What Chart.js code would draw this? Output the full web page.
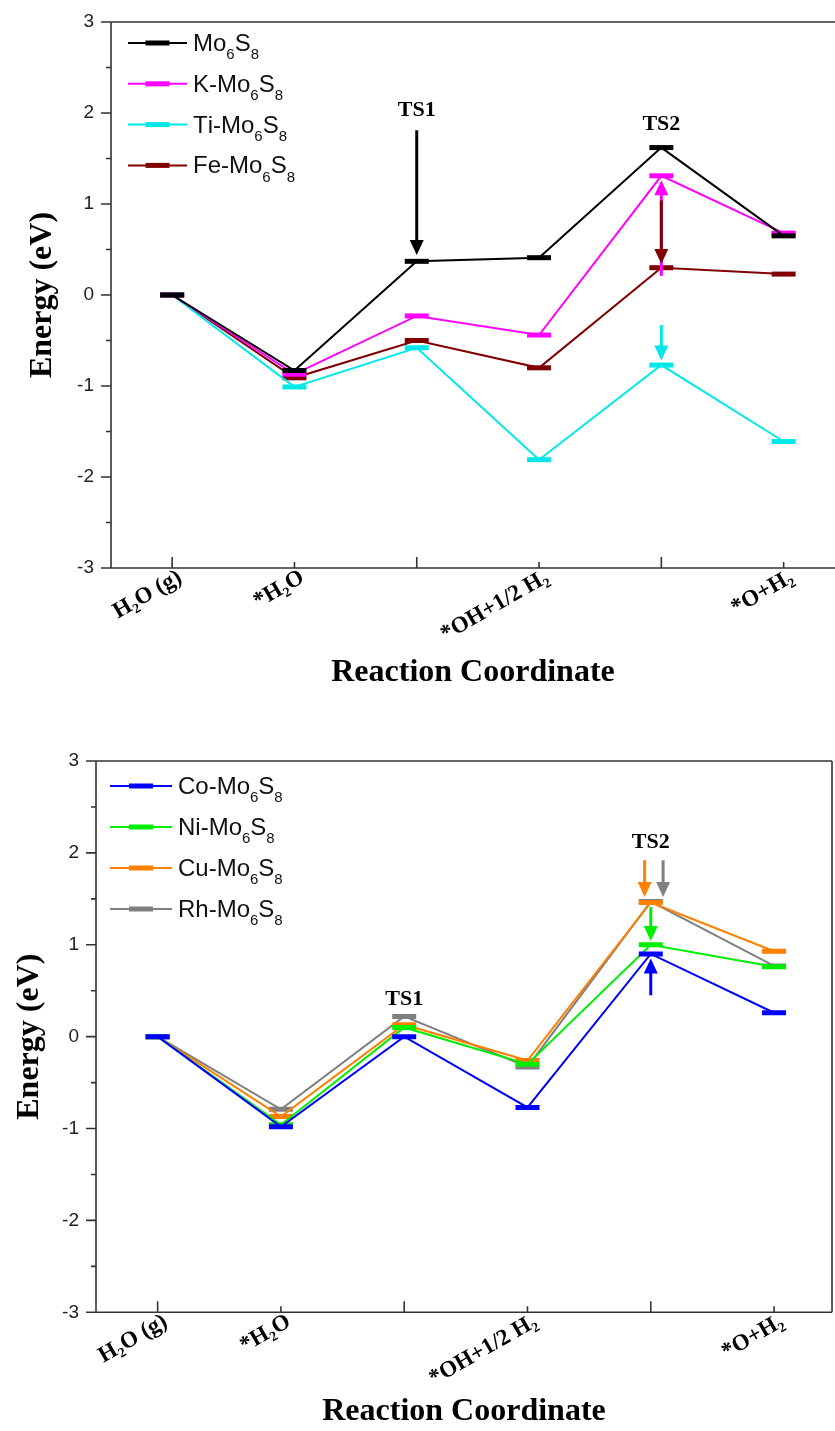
<!DOCTYPE html>
<html>
<head>
<meta charset="utf-8">
<script src="https://cdn.jsdelivr.net/npm/chart.js@4.4.1/dist/chart.umd.min.js"></script>
<style>
html,body{margin:0;padding:0;background:#fff;overflow:hidden;width:835px;height:1431px;}
#wrap1{position:absolute;left:0;top:0;width:835px;height:700px;}
#wrap2{position:absolute;left:0;top:700px;width:835px;height:731px;}
canvas{display:block;}
</style>
</head>
<body>
<div id="wrap1"><canvas id="c1"></canvas></div>
<div id="wrap2"><canvas id="c2"></canvas></div>
<script>
// ---------- data ----------
const categoryIndex = [0, 1, 2, 3, 4, 5];
const categories = ['H₂O (g)', '*H₂O', 'TS1', '*OH+1/2 H₂', 'TS2', '*O+H₂'];
const tickLabels = ['H₂O (g)', '*H₂O', '', '*OH+1/2 H₂', '', '*O+H₂'];
const yTickValues = [-3, -2, -1, 0, 1, 2, 3];
const yMinorValues = [-2.5, -1.5, -0.5, 0.5, 1.5, 2.5];

const topSeriesLabels = ['Mo₆S₈', 'K-Mo₆S₈', 'Ti-Mo₆S₈', 'Fe-Mo₆S₈'];
const mo6s8   = [0, -0.83,  0.37,  0.41,  1.62,  0.65];
const kMo6s8  = [0, -0.87, -0.23, -0.44,  1.31,  0.68];
const tiMo6s8 = [0, -1.01, -0.58, -1.81, -0.77, -1.61];
const feMo6s8 = [0, -0.91, -0.50, -0.80,  0.30,  0.23];

const bottomSeriesLabels = ['Co-Mo₆S₈', 'Ni-Mo₆S₈', 'Cu-Mo₆S₈', 'Rh-Mo₆S₈'];
const coMo6s8 = [0, -0.98, 0.00, -0.77, 0.90, 0.26];
const niMo6s8 = [0, -0.96, 0.10, -0.30, 1.00, 0.76];
const cuMo6s8 = [0, -0.87, 0.13, -0.26, 1.46, 0.93];
const rhMo6s8 = [0, -0.79, 0.22, -0.33, 1.47, 0.77];

// arrows: series index, x (category), from value, to value (tip)
const topArrows = [
  {series: 0, x: 2, from: 1.81, to: 0.44},
  {series: 1, x: 4, from: 0.21, to: 1.26},
  {series: 3, x: 4, from: 1.04, to: 0.34},
  {series: 2, x: 4, from: -0.33, to: -0.72}
];
const bottomArrows = [
  {series: 2, x: 3.95, from: 1.92, to: 1.52},
  {series: 3, x: 4.10, from: 1.92, to: 1.52},
  {series: 1, x: 4.0, from: 1.41, to: 1.04},
  {series: 0, x: 4.0, from: 0.45, to: 0.85}
];
const topTsLabels = [{text: 'TS1', x: 2, y: 2.03}, {text: 'TS2', x: 4, y: 1.88}];
const bottomTsLabels = [{text: 'TS1', x: 2, y: 0.41}, {text: 'TS2', x: 4, y: 2.11}];

// ---------- styles ----------
const topColors = ['#000000', '#ff00ff', '#00e8e8', '#800000'];
const bottomColors = ['#0000ff', '#00ee00', '#ff8000', '#808080'];

const SUBS = {'₀':'0','₁':'1','₂':'2','₃':'3','₄':'4','₅':'5','₆':'6','₇':'7','₈':'8','₉':'9'};
function drawRich(ctx, text, x, y, size, family, weight) {
  let cx = x;
  for (const ch of text) {
    if (SUBS[ch]) {
      ctx.font = `${weight} ${Math.round(size * 0.64)}px ${family}`;
      ctx.fillText(SUBS[ch], cx, y + size * 0.34);
      cx += ctx.measureText(SUBS[ch]).width;
    } else {
      ctx.font = `${weight} ${size}px ${family}`;
      ctx.fillText(ch, cx, y);
      cx += ctx.measureText(ch).width;
    }
  }
}

const framePlugin = {
  id: 'frame',
  afterDatasetsDraw(chart, args, o) {
    const {ctx, chartArea: a, scales: {x, y}} = chart;
    ctx.save();
    ctx.strokeStyle = '#333';
    ctx.lineWidth = 1.6;
    ctx.beginPath();
    const rightEnd = o.rightBorder ? a.right : chart.width + 2;
    ctx.moveTo(a.left, a.top);
    ctx.lineTo(a.left, a.bottom);
    ctx.lineTo(rightEnd, a.bottom);
    ctx.moveTo(a.left, a.top);
    ctx.lineTo(rightEnd, a.top);
    if (o.rightBorder) {
      ctx.moveTo(a.right, a.top);
      ctx.lineTo(a.right, a.bottom);
    }
    // y ticks (outward)
    yTickValues.forEach(v => {
      const py = y.getPixelForValue(v);
      ctx.moveTo(a.left - 10, py); ctx.lineTo(a.left, py);
    });
    yMinorValues.forEach(v => {
      const py = y.getPixelForValue(v);
      ctx.moveTo(a.left - 5, py); ctx.lineTo(a.left, py);
    });
    // x ticks (inward)
    categoryIndex.forEach(i => {
      const px = x.getPixelForValue(i);
      const len = i % 2 === 0 ? 11 : 6;
      ctx.moveTo(px, a.bottom); ctx.lineTo(px, a.bottom - len);
    });
    ctx.stroke();
    ctx.restore();
  }
};

const annotPlugin = {
  id: 'annot',
  afterDraw(chart, args, o) {
    const {ctx, chartArea: a, scales: {x, y}} = chart;
    const ds = chart.data.datasets;
    ctx.save();
    // arrows
    o.arrows.forEach(ar => {
      const col = ds[ar.series].borderColor;
      const px = x.getPixelForValue(ar.x);
      const y0 = y.getPixelForValue(ar.from);
      const y1 = y.getPixelForValue(ar.to);
      const dir = Math.sign(y1 - y0);
      const headLen = 15, headW = 7;
      ctx.strokeStyle = col; ctx.fillStyle = col; ctx.lineWidth = 3;
      ctx.beginPath();
      ctx.moveTo(px, y0); ctx.lineTo(px, y1 - dir * headLen + dir * 1);
      ctx.stroke();
      ctx.beginPath();
      ctx.moveTo(px, y1);
      ctx.lineTo(px - headW, y1 - dir * headLen);
      ctx.lineTo(px + headW, y1 - dir * headLen);
      ctx.closePath();
      ctx.fill();
    });
    // TS labels
    ctx.fillStyle = '#000';
    ctx.font = 'bold 22px "Liberation Serif"';
    ctx.textAlign = 'center';
    ctx.textBaseline = 'middle';
    o.ts.forEach(t => ctx.fillText(t.text, x.getPixelForValue(t.x), y.getPixelForValue(t.y)));
    // legend
    const L = o.legend;
    ctx.textAlign = 'left';
    ctx.textBaseline = 'alphabetic';
    ds.forEach((d, i) => {
      const ry = a.top + L.y0 + i * L.dy;
      const lx0 = a.left + L.x0, lx1 = lx0 + L.len;
      ctx.strokeStyle = d.borderColor; ctx.lineWidth = 2;
      ctx.beginPath(); ctx.moveTo(lx0, ry); ctx.lineTo(lx1, ry); ctx.stroke();
      ctx.lineWidth = 5;
      const mid = (lx0 + lx1) / 2;
      ctx.beginPath(); ctx.moveTo(mid - 12, ry); ctx.lineTo(mid + 12, ry); ctx.stroke();
      ctx.fillStyle = '#111';
      drawRich(ctx, d.label, lx1 + 6, ry + 8, 24, '"Liberation Sans", Arial, sans-serif', 'normal');
    });
    ctx.restore();
  }
};

function buildChart(id, c) {
  const datasets = c.series.map((data, i) => ({
    label: c.labels[i],
    data: data,
    borderColor: c.colors[i],
    backgroundColor: c.colors[i],
    borderWidth: 2,
    pointStyle: 'line',
    pointRadius: 12,
    pointHoverRadius: 12,
    pointBorderWidth: 5,
    pointBorderColor: c.colors[i],
    fill: false,
    tension: 0
  }));
  return new Chart(document.getElementById(id), {
    type: 'line',
    data: {labels: categoryIndex, datasets: datasets},
    options: {
      responsive: true,
      maintainAspectRatio: false,
      animation: false,
      devicePixelRatio: 1,
      events: [],
      layout: {padding: c.padding, autoPadding: false},
      plugins: {
        legend: {display: false},
        tooltip: {enabled: false},
        frame: {rightBorder: c.rightBorder},
        annot: {arrows: c.arrows, ts: c.ts, legend: c.legend}
      },
      scales: {
        x: {
          type: 'linear',
          min: -0.5,
          max: c.xMax,
          afterBuildTicks: s => { s.ticks = categoryIndex.map(v => ({value: v})); },
          afterFit: s => { s.height = c.xHeight; s.paddingLeft = 0; s.paddingRight = 0; },
          grid: {display: true, drawOnChartArea: false, drawTicks: false, color: 'rgba(0,0,0,0)'},
          border: {display: false},
          ticks: {
            autoSkip: false, minRotation: 30, maxRotation: 30, padding: -4, labelOffset: 8, color: '#000',
            font: {family: '"Liberation Serif", serif', weight: 'bold', size: 23},
            callback: v => tickLabels[v] !== undefined ? tickLabels[v] : ''
          },
          title: {
            display: true, text: 'Reaction Coordinate', color: '#000',
            font: {family: '"Liberation Serif", serif', weight: 'bold', size: 32},
            padding: {top: 0, bottom: c.xTitlePad}
          }
        },
        y: {
          min: -3,
          max: 3,
          afterBuildTicks: s => { s.ticks = yTickValues.map(v => ({value: v})); },
          afterFit: s => { s.width = c.yWidth; },
          grid: {display: true, drawOnChartArea: false, drawTicks: true, tickLength: 10, color: 'rgba(0,0,0,0)'},
          border: {display: false},
          ticks: {
            padding: 7, color: '#222',
            font: {family: '"Liberation Sans", Arial, sans-serif', size: 19}
          },
          title: {
            display: true, text: 'Energy (eV)', color: '#000',
            font: {family: '"Liberation Serif", serif', weight: 'bold', size: 32},
            padding: {top: c.yTitlePad, bottom: 0}
          }
        }
      }
    },
    plugins: [framePlugin, annotPlugin]
  });
}

buildChart('c1', {
  labels: topSeriesLabels,
  series: [mo6s8, kMo6s8, tiMo6s8, feMo6s8],
  colors: topColors,
  padding: {top: 22, left: 0, right: 0, bottom: 0},
  yWidth: 111,
  xHeight: 132,
  xMax: 5.42,
  xTitlePad: 8,
  yTitlePad: 24,
  rightBorder: false,
  arrows: topArrows,
  ts: topTsLabels,
  legend: {x0: 17, y0: 21, dy: 40.8, len: 59}
});

buildChart('c2', {
  labels: bottomSeriesLabels,
  series: [coMo6s8, niMo6s8, cuMo6s8, rhMo6s8],
  colors: bottomColors,
  padding: {top: 61, left: 0, right: 3, bottom: 0},
  yWidth: 96,
  xHeight: 118.7,
  xMax: 5.47,
  xTitlePad: 0,
  yTitlePad: 11,
  rightBorder: true,
  arrows: bottomArrows,
  ts: bottomTsLabels,
  legend: {x0: 14, y0: 25, dy: 41, len: 62}
});
</script>
</body>
</html>
